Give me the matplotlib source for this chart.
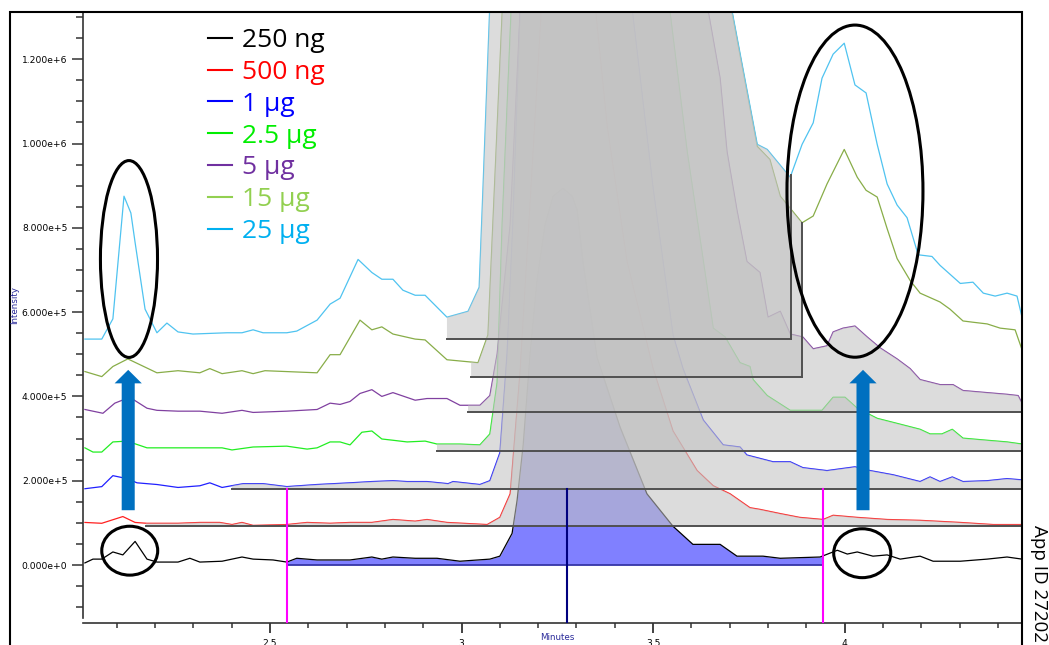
import numpy as np
import matplotlib
matplotlib.use('Agg')
import matplotlib.pyplot as plt
from matplotlib.patches import Ellipse, FancyArrow, Rectangle
from matplotlib.lines import Line2D
from matplotlib.ticker import MultipleLocator, FuncFormatter

# ---- data (time in min, intensity in counts)
labels = ['250 ng', '500 ng', '1 µg', '2.5 µg', '5 µg', '15 µg', '25 µg']

t_250 = [2.017, 2.038, 2.061, 2.090, 2.116, 2.148, 2.179, 2.205, 2.260, 2.291,
         2.317, 2.375, 2.427, 2.456, 2.508, 2.544, 2.570, 2.623, 2.709, 2.766,
         2.792, 2.821, 2.879, 2.936, 2.996, 3.074, 3.100, 3.132, 3.145, 3.161,
         3.179, 3.197, 3.218, 3.239, 3.265, 3.289, 3.302, 3.317, 3.354, 3.414,
         3.484, 3.552, 3.604, 3.675, 3.719, 3.787, 3.832, 3.936, 3.981, 4.007,
         4.033, 4.074, 4.111, 4.145, 4.197, 4.231, 4.302, 4.372, 4.424, 4.463]
i_250 = [5000, 14000, 14000, 31000, 24000, 56000, 14000, 7000, 7000, 16000,
         7000, 9000, 19000, 14000, 12000, 7000, 16000, 12000, 12000, 19000,
         14000, 19000, 16000, 16000, 9000, 14000, 21000, 75000, 153000, 285000,
         501000, 675000, 807000, 875000, 894000, 875000, 842000, 720000, 492000, 327000,
         169000, 92000, 49000, 49000, 21000, 21000, 16000, 19000, 35000, 26000,
         31000, 21000, 24000, 14000, 21000, 9000, 9000, 14000, 19000, 14000]

t_500 = [2.017, 2.061, 2.116, 2.148, 2.179, 2.260, 2.317, 2.369, 2.401, 2.427,
         2.456, 2.544, 2.597, 2.657, 2.709, 2.766, 2.821, 2.879, 2.910, 2.962,
         3.067, 3.100, 3.127, 3.153, 3.187, 3.220, 3.290, 3.345, 3.380, 3.432,
         3.500, 3.552, 3.615, 3.657, 3.701, 3.753, 3.779, 3.832, 3.883, 3.944,
         3.970, 4.033, 4.111, 4.197, 4.302, 4.388, 4.463]
i_500 = [101000, 99000, 115000, 101000, 99000, 99000, 101000, 101000, 96000, 101000,
         94000, 96000, 101000, 99000, 101000, 101000, 108000, 104000, 108000, 101000,
         96000, 113000, 169000, 459000, 981000, 1500000, 2600000, 1360000, 1042000, 720000,
         466000, 318000, 224000, 188000, 169000, 136000, 132000, 122000, 113000, 108000,
         118000, 113000, 108000, 106000, 101000, 96000, 96000]

t_1 = [2.017, 2.061, 2.090, 2.127, 2.153, 2.205, 2.260, 2.317, 2.343, 2.375,
       2.430, 2.482, 2.544, 2.623, 2.709, 2.766, 2.821, 2.858, 2.910, 2.965,
       2.978, 3.048, 3.074, 3.100, 3.119, 3.134, 3.160, 3.350, 3.440, 3.500,
       3.552, 3.578, 3.631, 3.683, 3.727, 3.745, 3.813, 3.858, 3.891, 3.954,
       3.970, 4.027, 4.067, 4.127, 4.197, 4.223, 4.249, 4.281, 4.309, 4.372,
       4.424, 4.463]
i_1 = [181000, 186000, 212000, 205000, 195000, 191000, 184000, 188000, 195000, 184000,
       193000, 193000, 186000, 191000, 195000, 198000, 200000, 198000, 198000, 193000,
       198000, 191000, 200000, 266000, 501000, 807000, 1500000, 2800000, 1360000, 894000,
       546000, 466000, 344000, 285000, 280000, 261000, 245000, 245000, 231000, 224000,
       226000, 233000, 224000, 214000, 198000, 209000, 198000, 209000, 198000, 200000,
       205000, 202000]

t_2p5 = [2.017, 2.038, 2.061, 2.090, 2.127, 2.179, 2.260, 2.375, 2.401, 2.456,
         2.544, 2.597, 2.623, 2.657, 2.683, 2.709, 2.740, 2.766, 2.792, 2.821,
         2.858, 2.905, 2.936, 2.996, 3.048, 3.074, 3.093, 3.106, 3.138, 3.400,
         3.535, 3.589, 3.657, 3.688, 3.727, 3.753, 3.761, 3.798, 3.858, 3.941,
         3.970, 4.001, 4.033, 4.085, 4.137, 4.197, 4.223, 4.254, 4.281, 4.309,
         4.372, 4.424, 4.463]
i_2p5 = [278000, 268000, 268000, 292000, 294000, 278000, 278000, 278000, 273000, 280000,
         282000, 275000, 278000, 292000, 292000, 285000, 315000, 318000, 299000, 296000,
         292000, 294000, 287000, 287000, 285000, 311000, 433000, 807000, 1500000, 3000000,
         1380000, 981000, 562000, 541000, 480000, 471000, 440000, 402000, 367000, 367000,
         398000, 398000, 372000, 348000, 336000, 322000, 311000, 311000, 322000, 301000,
         296000, 292000, 287000]

t_5 = [2.017, 2.064, 2.095, 2.134, 2.179, 2.205, 2.260, 2.317, 2.375, 2.427,
       2.456, 2.544, 2.623, 2.657, 2.683, 2.709, 2.735, 2.766, 2.792, 2.821,
       2.879, 2.910, 2.962, 2.996, 3.048, 3.074, 3.093, 3.127, 3.160, 3.420,
       3.635, 3.675, 3.693, 3.719, 3.745, 3.779, 3.800, 3.832, 3.858, 3.891,
       3.918, 3.954, 3.970, 3.996, 4.027, 4.059, 4.093, 4.137, 4.171, 4.197,
       4.249, 4.283, 4.309, 4.372, 4.424, 4.453, 4.463]
i_5 = [369000, 360000, 384000, 398000, 372000, 367000, 365000, 365000, 360000, 367000,
       362000, 365000, 369000, 384000, 381000, 388000, 407000, 416000, 400000, 409000,
       391000, 395000, 395000, 379000, 379000, 402000, 501000, 807000, 1450000, 3000000,
       1360000, 1155000, 981000, 842000, 720000, 694000, 588000, 602000, 548000, 541000,
       513000, 520000, 553000, 562000, 567000, 541000, 515000, 489000, 466000, 440000,
       428000, 428000, 414000, 409000, 405000, 402000, 384000]

t_15 = [2.017, 2.061, 2.090, 2.129, 2.205, 2.260, 2.317, 2.343, 2.375, 2.427,
        2.456, 2.487, 2.623, 2.657, 2.683, 2.735, 2.766, 2.792, 2.821, 2.879,
        2.905, 2.962, 3.043, 3.069, 3.125, 3.400, 3.700, 3.772, 3.805, 3.832,
        3.889, 3.918, 3.954, 3.999, 4.033, 4.056, 4.085, 4.111, 4.137, 4.171,
        4.197, 4.249, 4.275, 4.309, 4.335, 4.372, 4.406, 4.445, 4.463]
i_15 = [459000, 447000, 471000, 489000, 456000, 461000, 456000, 466000, 454000, 461000,
        454000, 461000, 456000, 499000, 499000, 581000, 558000, 565000, 548000, 536000,
        534000, 487000, 480000, 546000, 1700000, 3200000, 1340000, 993000, 962000, 875000,
        812000, 828000, 904000, 986000, 920000, 889000, 873000, 798000, 727000, 675000,
        645000, 624000, 607000, 579000, 576000, 572000, 562000, 558000, 511000]

t_25 = [2.017, 2.061, 2.090, 2.119, 2.137, 2.148, 2.174, 2.205, 2.231, 2.260,
        2.299, 2.388, 2.427, 2.456, 2.482, 2.544, 2.570, 2.623, 2.657, 2.683,
        2.730, 2.766, 2.792, 2.821, 2.847, 2.879, 2.905, 2.962, 3.017, 3.046,
        3.056, 3.085, 3.350, 3.705, 3.772, 3.798, 3.858, 3.889, 3.918, 3.941,
        3.970, 3.999, 4.027, 4.056, 4.085, 4.111, 4.137, 4.163, 4.192, 4.228,
        4.249, 4.302, 4.335, 4.362, 4.393, 4.424, 4.450, 4.463]
i_25 = [536000, 536000, 584000, 875000, 835000, 765000, 607000, 551000, 574000, 553000,
        548000, 551000, 551000, 558000, 551000, 551000, 555000, 581000, 619000, 633000,
        725000, 694000, 678000, 678000, 652000, 640000, 640000, 588000, 602000, 659000,
        894000, 1600000, 3500000, 1320000, 998000, 986000, 920000, 998000, 1049000, 1155000,
        1212000, 1238000, 1139000, 1120000, 998000, 904000, 854000, 824000, 736000, 732000,
        711000, 668000, 671000, 645000, 638000, 645000, 638000, 588000]

# integration windows (start, end, baseline) per trace
win_start = [2.544, 2.176, 2.401, 2.936, 3.017, 3.025, 2.962]
win_end = [3.944, 4.463, 4.463, 4.463, 4.463, 3.889, 3.860]
win_base = [0, 92000, 181000, 271000, 362000, 447000, 536000]
apex_250 = 3.275
marker_top = 181000

times = [t_250, t_500, t_1, t_2p5, t_5, t_15, t_25]
intens = [i_250, i_500, i_1, i_2p5, i_5, i_15, i_25]

trace_colors = ['#000000', '#ff2020', '#2020ff', '#22ee22', '#8040a0', '#88ad48', '#4fc3f0']
legend_colors = ['#000000', '#ff0000', '#0000ff', '#00ee00', '#7030a0', '#92d050', '#00b0f0']

W, H = 1049, 645
fig = plt.figure(figsize=(W / 100, H / 100), dpi=100, facecolor='white')
ax = fig.add_axes([83 / W, 1 - 618 / H, (1022 - 83) / W, (618 - 12) / H])

def window(t, y, t0, t1):
    t = np.asarray(t, float)
    y = np.asarray(y, float)
    keep = (t > t0) & (t < t1)
    xs = np.concatenate([[t0], t[keep], [t1]])
    ys = np.concatenate([[np.interp(t0, t, y)], y[keep], [np.interp(t1, t, y)]])
    return xs, ys

for k in range(len(labels)):
    ax.plot(times[k], intens[k], color=trace_colors[k], lw=0.9, zorder=2)
    xs, ys = window(times[k], intens[k], win_start[k], win_end[k])
    b = win_base[k]
    if k == 0:
        ax.fill_between(xs, ys, b, color='#8080ff', lw=0, zorder=1)
        ax.plot([xs[0], xs[-1]], [b, b], color='#3030a0', lw=1.2, zorder=4)
    else:
        ax.fill_between(xs, ys, b, color='#c3c3c3', alpha=0.57, lw=0, zorder=3)
        ax.plot([xs[0], xs[-1]], [b, b], color='#505050', lw=1.4, zorder=4)
        if win_end[k] < 4.46:
            ax.plot([xs[-1], xs[-1]], [b, ys[-1]], color='#505050', lw=1.4, zorder=4)

# integration markers
for tx in (win_start[0], win_end[0]):
    ax.plot([tx, tx], [marker_top, -135000], color='#ff00ff', lw=1.5, zorder=5, clip_on=False)
ax.plot([apex_250, apex_250], [marker_top, -135000], color='#00007f', lw=1.5, zorder=5, clip_on=False)

# annotations: ellipses and arrows
for cx, cy, w, h in [(2.132, 726000, 0.149, 467000), (2.134, 34000, 0.146, 116000),
                     (4.027, 887000, 0.355, 788000), (4.046, 28000, 0.149, 116000)]:
    ax.add_patch(Ellipse((cx, cy), w, h, fill=False, ec='black', lw=2.2, zorder=6))
for ax_x in (2.130, 4.048):
    ax.add_patch(FancyArrow(ax_x, 130000, 0, 333000, width=0.034, head_width=0.071,
                            head_length=32000, length_includes_head=True,
                            color='#0070c0', lw=0, zorder=6))

ax.set_xlim(2.012, 4.463)
ax.set_ylim(-125700, 1312000)

ax.spines['top'].set_visible(False)
ax.spines['right'].set_visible(False)
ax.spines['bottom'].set_position(('outward', 3.6))
for s in ('left', 'bottom'):
    ax.spines[s].set_color('#333333')
    ax.spines[s].set_linewidth(1.2)

ax.xaxis.set_major_locator(MultipleLocator(0.5))
ax.xaxis.set_minor_locator(MultipleLocator(0.1))
ax.yaxis.set_major_locator(MultipleLocator(200000))
ax.yaxis.set_minor_locator(MultipleLocator(50000))

def sci(v, pos):
    if v == 0:
        return '0.000e+0'
    e = int(np.floor(np.log10(abs(v))))
    return '%.3fe+%d' % (v / 10 ** e, e)

ax.yaxis.set_major_formatter(FuncFormatter(sci))
ax.xaxis.set_major_formatter(FuncFormatter(lambda v, p: '%g' % v))
ax.tick_params(axis='y', which='major', length=7.9, width=1.1, pad=3.4, labelsize=6.6, color='#333333')
ax.tick_params(axis='y', which='minor', length=5, width=1.1, color='#333333')
ax.tick_params(axis='x', which='major', length=7.2, width=1.3, pad=4.6, labelsize=6.6, color='#333333')
ax.tick_params(axis='x', which='minor', length=3.6, width=1.1, color='#333333')

fig.text(15 / W, 1 - 305 / H, 'Intensity', rotation=90, ha='center', va='center',
         fontsize=6.3, color='#2a2a9a')
fig.text(557 / W, 1 - 638 / H, 'Minutes', ha='center', va='center', fontsize=6.3, color='#2a2a9a')
fig.text(1039 / W, 1 - 525 / H, 'App ID 27202', rotation=-90, ha='center', va='top',
         fontsize=13.5, family=['Open Sans', 'DejaVu Sans'], color='black')

handles = [Line2D([], [], color=c, lw=1.5) for c in legend_colors]
ax.legend(handles, labels, loc='upper left', bbox_to_anchor=(208 / W, 1 - 28 / H),
          bbox_transform=fig.transFigure, frameon=False,
          prop={'family': ['Open Sans', 'DejaVu Sans'], 'size': 19},
          handlelength=0.9, handletextpad=0.4, labelspacing=0.26, borderpad=0,
          borderaxespad=0, labelcolor=legend_colors)

# outer frame of the exported picture
fig.add_artist(Rectangle((10 / W, -0.1), 1012 / W, 0.1 + (H - 12) / H, transform=fig.transFigure,
                         fill=False, ec='black', lw=1.5))

fig.savefig('out.png', dpi=100, facecolor='white')
